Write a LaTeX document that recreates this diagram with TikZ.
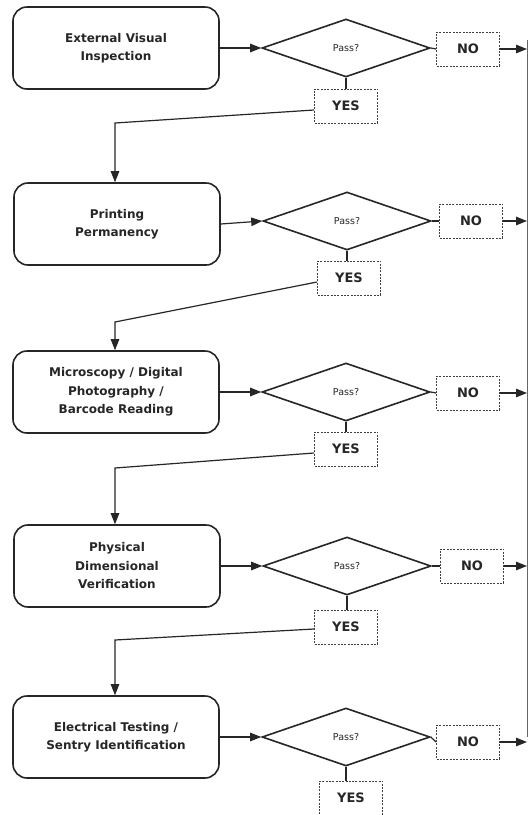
\documentclass[tikz,border=0pt]{standalone}
\usepackage{fontspec}
\setmainfont{DejaVu Sans}
\usetikzlibrary{shapes.geometric,arrows.meta}
\begin{document}
\begin{tikzpicture}[x=1pt,y=-1pt,
  proc/.style={draw=black!85, rounded corners=14pt, line width=1.6pt, minimum width=206pt, minimum height=82pt, align=center, inner sep=0pt, font=\bfseries\fontsize{12}{18.5}\selectfont, text=black!85},
  dec/.style={draw=black!85, diamond, line width=1.6pt, minimum width=168pt, minimum height=58pt, inner sep=0pt, aspect=2.9, font=\fontsize{9.5}{11}\selectfont, text=black!85},
  lbl/.style={draw=black!75, dash pattern=on 2pt off 1.3pt, line width=0.9pt, minimum width=63pt, minimum height=34pt, inner sep=0pt, font=\bfseries\fontsize{13}{15}\selectfont, text=black!85},
  arr/.style={draw=black!85, line width=1.2pt, -{Triangle[length=11pt,width=8.5pt]}},
  ln/.style={draw=black!85, line width=1.2pt}
]
\useasboundingbox (0,0) rectangle (529,815);
% row 1
\node[proc] (p1) at (116,48) {External Visual\\Inspection};
\node[dec] (d1) at (346,48) {Pass?};
\node[lbl] (n1) at (468,49) {NO};
\node[lbl] (y1) at (346,106) {YES};
% row 2
\node[proc] (p2) at (117,224) {Printing\\Permanency};
\node[dec] (d2) at (347,221) {Pass?};
\node[lbl] (n2) at (471,221) {NO};
\node[lbl] (y2) at (349,278) {YES};
% row 3
\node[proc] (p3) at (116,392) {Microscopy / Digital\\Photography /\\Barcode Reading};
\node[dec] (d3) at (346,392) {Pass?};
\node[lbl] (n3) at (468,393) {NO};
\node[lbl] (y3) at (346,449) {YES};
% row 4
\node[proc] (p4) at (117,566) {Physical\\Dimensional\\Verification};
\node[dec] (d4) at (347,566) {Pass?};
\node[lbl] (n4) at (472,566) {NO};
\node[lbl] (y4) at (346,627) {YES};
% row 5
\node[proc] (p5) at (116,737) {Electrical Testing /\\Sentry Identification};
\node[dec] (d5) at (346,737) {Pass?};
\node[lbl] (n5) at (468,742) {NO};
\node[lbl] (y5) at (351,798) {YES};
% right edge line
\coordinate (rt) at (527,40);
\coordinate (rb) at (527,737);
\draw[black!60, line width=0.8pt] (rt) -- (rb);
% elbows
\coordinate (e1) at (115,123);
\coordinate (e2) at (115,322);
\coordinate (e3) at (115,468);
\coordinate (e4) at (115,640);
\foreach \i in {1,...,5}{
  \draw[arr] (p\i.east) -- (d\i.west);
  \draw[ln] (d\i.east) -- (n\i.west);
  \draw[ln] (d\i.south) -- (d\i.south |- y\i.north);
}
\draw[arr] (n1.east) -- (n1.east -| rt);
\draw[arr] (n2.east) -- (n2.east -| rt);
\draw[arr] (n3.east) -- (n3.east -| rt);
\draw[arr] (n4.east) -- (n4.east -| rt);
\draw[arr] (n5.east) -- (n5.east -| rt);
\draw[arr] ([yshift=-4pt]y1.west) -- (e1) -- (e1 |- p2.north);
\draw[arr] ([yshift=-4pt]y2.west) -- (e2) -- (e2 |- p3.north);
\draw[arr] ([yshift=-4pt]y3.west) -- (e3) -- (e3 |- p4.north);
\draw[arr] ([yshift=-2pt]y4.west) -- (e4) -- (e4 |- p5.north);
\end{tikzpicture}
\end{document}
